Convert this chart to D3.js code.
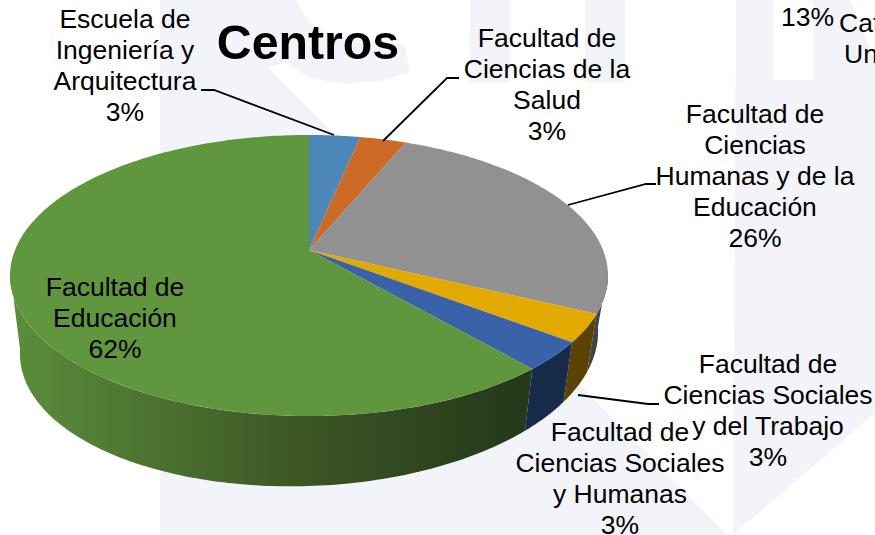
<!DOCTYPE html>
<html>
<head>
<meta charset="utf-8">
<script src="https://cdn.jsdelivr.net/npm/d3@7"></script>
<style>
  html, body { margin:0; padding:0; background:#fff; overflow:hidden; }
  text { font-family:"Liberation Sans", Arial, sans-serif; fill:#000; }
</style>
</head>
<body>
<svg id="chart" width="875" height="535"></svg>
<script>
//the data (clockwise from 12 o'clock)
const valores = [3.3, 3.0, 25.9, 3.2, 3.3, 61.5];
const porcentajes = ['3%','3%','26%','3%','3%','62%'];
const coloresTop = ['#4d86b9','#cb6b27','#919191','#e2a900','#3a62a8','#60963d'];
const coloresLado = ['#2d4f6e','#7a4017','#444447','#5a4300','#172a4a','url(#verdeLado)'];

const etiquetas = [
  ['Escuela de','Ingeniería y','Arquitectura'],
  ['Facultad de','Ciencias de la','Salud'],
  ['Facultad de','Ciencias','Humanas y de la','Educación'],
  ['Facultad de','Ciencias Sociales','y del Trabajo'],
  ['Facultad de','Ciencias Sociales','y Humanas'],
  ['Facultad de','Educación']
];
const etiquetaX = [125, 547, 755, 768, 620, 115];
const etiquetaY = [28, 47, 123, 373, 441, 296];

const svg = d3.select('#chart');

//green side goes darker from left to right
const grad = svg.append('defs').append('linearGradient')
  .attr('id', 'verdeLado')
  .attr('gradientUnits', 'userSpaceOnUse')
  .attr('x1', 20).attr('x2', 525).attr('y1', 0).attr('y2', 0);
grad.append('stop').attr('offset', 0).attr('stop-color', '#5a8c3a');
grad.append('stop').attr('offset', 0.55).attr('stop-color', '#3c5725');
grad.append('stop').attr('offset', 1).attr('stop-color', '#24381a');

//watermark behind the chart
const pale = '#f2f4f9';
const fondo = svg.append('g').attr('fill', pale);
[
  [[160,0],[297,0],[304,15],[318,30],[345,38],[405,45],[410,72],[380,81],[345,84],[310,78],[285,62],[268,68],[330,130],[590,395],[727,535],[160,535]],
  [[470,0],[510,0],[510,82],[470,82]],
  [[585,0],[625,0],[625,82],[585,82]],
  [[736,0],[773,0],[773,80],[813,80],[813,0],[850,0],[875,60],[875,413],[733,535]]
].forEach(p => fondo.append('path').attr('d', d3.line()(p) + 'Z'));

//pie slices, only the angles come from d3.pie
const pie = d3.pie().sort(null).value(d => d);
const arcos = pie(valores);

//perspective of the tilted disc, u,v on a unit circle -> screen
const cx = 309, apexY = 250, persp = 0.1815, sx = 294, sy = 135.9;
function arriba(a) {
  const u = Math.sin(a), v = Math.cos(a), den = 1 + persp * v;
  return [cx + sx * u / den, apexY - sy * v / den];
}
function abajo(a) {
  const p = arriba(a), u = Math.sin(a), v = Math.cos(a);
  return [cx + (p[0] - cx) * 0.967, p[1] + 66.5 - 11.1 * u - 3.5 * v];
}
function muestras(a0, a1) {
  const n = Math.ceil((a1 - a0) * 60);
  return d3.range(n + 1).map(k => a0 + (a1 - a0) * k / n);
}

//side wall, only the part of each slice facing the viewer (edge to edge of the silhouette)
const visibleDesde = 1.72, visibleHasta = 4.56;
svg.append('g').selectAll('path').data(arcos).join('path')
  .filter(d => d.endAngle > visibleDesde && d.startAngle < visibleHasta)
  .attr('d', d => {
    const a = muestras(Math.max(d.startAngle, visibleDesde), Math.min(d.endAngle, visibleHasta));
    return d3.line()([...a.map(arriba), ...a.slice().reverse().map(abajo)]) + 'Z';
  })
  .attr('fill', d => coloresLado[d.index]);

//top face
svg.append('g').selectAll('path').data(arcos).join('path')
  .attr('d', d => d3.line()([[cx, apexY], ...muestras(d.startAngle, d.endAngle).map(arriba)]) + 'Z')
  .attr('fill', d => coloresTop[d.index]);

//leader lines
const lideres = [
  [[334,135],[214,90],[201,90]],
  [[383,141],[447,78],[459,78]],
  [[568,205],[646,184],[656,184]],
  [[578,395],[648,404],[659,404]]
];
svg.append('g').selectAll('path').data(lideres).join('path')
  .attr('d', d => d3.line()(d))
  .attr('fill', 'none')
  .attr('stroke', '#000')
  .attr('stroke-width', 1.8);

//labels, the percentage goes on the last line
etiquetas.forEach((lineas, i) => {
  const t = svg.append('text')
    .attr('text-anchor', 'middle')
    .attr('font-size', 26.5);
  lineas.concat(porcentajes[i]).forEach((s, k) => {
    t.append('tspan')
      .attr('x', etiquetaX[i])
      .attr('y', etiquetaY[i] + k * 31)
      .text(s);
  });
});

svg.append('text')
  .attr('x', 308).attr('y', 59)
  .attr('text-anchor', 'middle')
  .attr('font-size', 48.3)
  .attr('font-weight', 'bold')
  .text('Centros');

//cut off label of the neighbouring chart
svg.append('text').attr('x', 781).attr('y', 26).attr('font-size', 26.5).text('13%');
svg.append('text').attr('x', 839).attr('y', 32).attr('font-size', 26.5).text('Cat');
svg.append('text').attr('x', 844).attr('y', 63).attr('font-size', 26.5).text('Un');
</script>
</body>
</html>
